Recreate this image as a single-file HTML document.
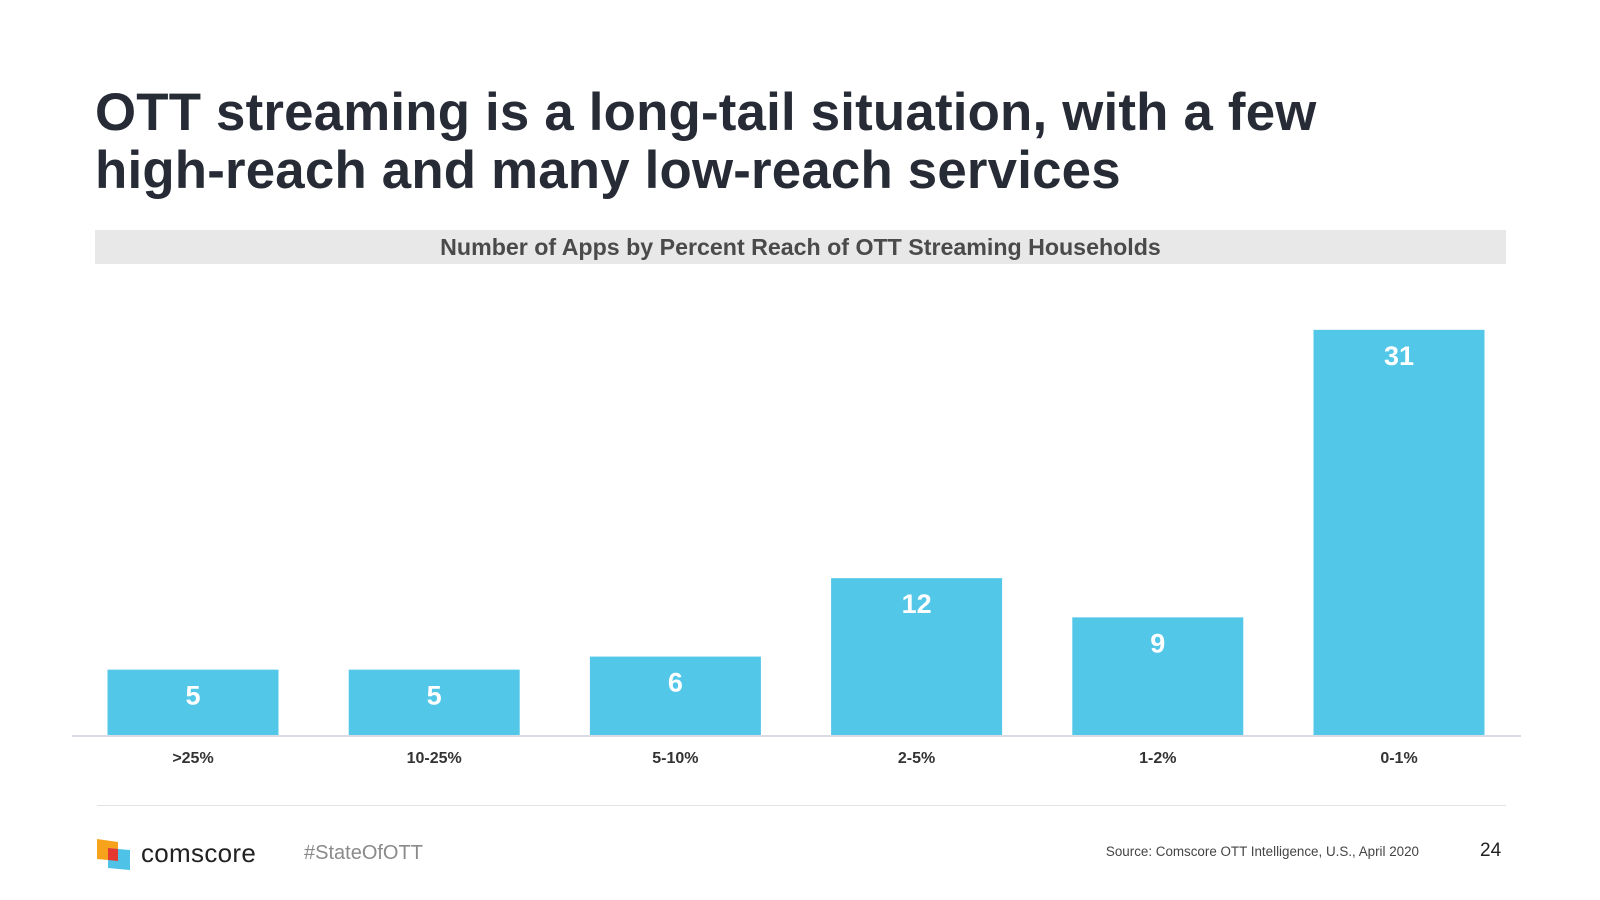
<!DOCTYPE html>
<html><head><meta charset="utf-8"><style>
body{margin:0;width:1600px;height:900px;background:#fff;font-family:"Liberation Sans",Arial,sans-serif;position:relative;overflow:hidden}
.abs{position:absolute}
</style></head><body>
<div class="abs" style="left:95px;top:84px;font-size:52.8px;font-weight:bold;color:#262b36;line-height:58px;letter-spacing:0.2px">OTT streaming is a long-tail situation, with a few<br>high-reach and many low-reach services</div>
<div class="abs" style="left:95px;top:230px;width:1411px;height:34px;background:#e8e8e8;text-align:center;line-height:34px;font-size:23.2px;font-weight:bold;color:#4a4a4a">Number of Apps by Percent Reach of OTT Streaming Households</div>
<svg id="chart" class="abs" style="left:0;top:0" width="1600" height="900"></svg>
<div class="abs" style="left:97px;top:805px;width:1409px;height:1px;background:#e3e3e3"></div>
<svg class="abs" style="left:96px;top:839px" width="36" height="32">
<polygon points="1,0 22,3 22,22 1,20" fill="#f7a21b"/>
<polygon points="12,9 34,11 34,31 12,29" fill="#4fc3e7"/>
<polygon points="12,9 22,10 22,22 12,21" fill="#e5392f"/>
</svg>
<div class="abs" style="left:141px;top:838px;font-size:26px;color:#222;letter-spacing:0.3px">comscore</div>
<div class="abs" style="left:304px;top:842px;font-size:20px;color:#8a8a8a">#StateOfOTT</div>
<div class="abs" style="left:1019px;top:844px;width:400px;text-align:right;font-size:13.4px;color:#444">Source: Comscore OTT Intelligence, U.S., April 2020</div>
<div class="abs" style="left:1480px;top:840px;font-size:19px;color:#222">24</div>
<script>
const categories=[">25%","10-25%","5-10%","2-5%","1-2%","0-1%"];
const values=[5,5,6,12,9,31];
const svg=document.getElementById('chart');
const NS='http://www.w3.org/2000/svg';
const baseY=735, unit=13.07, x0=193, step=241.2, bw=171;
function xc(i){return x0+i*step;}
function yv(v){return baseY-v*unit;}
categories.forEach((c,i)=>{
  const r=document.createElementNS(NS,'rect');
  r.setAttribute('x',xc(i)-bw/2);r.setAttribute('y',yv(values[i]));
  r.setAttribute('width',bw);r.setAttribute('height',baseY-yv(values[i]));
  r.setAttribute('fill','#53c7e8');
  
  
  svg.appendChild(r);
  const t=document.createElementNS(NS,'text');
  t.setAttribute('x',xc(i));t.setAttribute('y',yv(values[i])+35);
  t.setAttribute('text-anchor','middle');t.setAttribute('fill','#fff');
  t.setAttribute('font-size','27');t.setAttribute('font-weight','bold');
  t.setAttribute('font-family','Liberation Sans, sans-serif');
  t.textContent=values[i];
  
  
  svg.appendChild(t);
  const l=document.createElementNS(NS,'text');
  l.setAttribute('x',xc(i));l.setAttribute('y',763);
  l.setAttribute('text-anchor','middle');l.setAttribute('fill','#333');
  l.setAttribute('font-size','16');l.setAttribute('font-weight','bold');
  l.setAttribute('font-family','Liberation Sans, sans-serif');
  l.textContent=c;
  
  
  svg.appendChild(l);
});
const ax=document.createElementNS(NS,'line');
ax.setAttribute('x1',72);ax.setAttribute('x2',1521);ax.setAttribute('y1',baseY+1);ax.setAttribute('y2',baseY+1);
ax.setAttribute('stroke','#d9dde3');ax.setAttribute('stroke-width','2');


svg.appendChild(ax);
</script>
</body></html>
